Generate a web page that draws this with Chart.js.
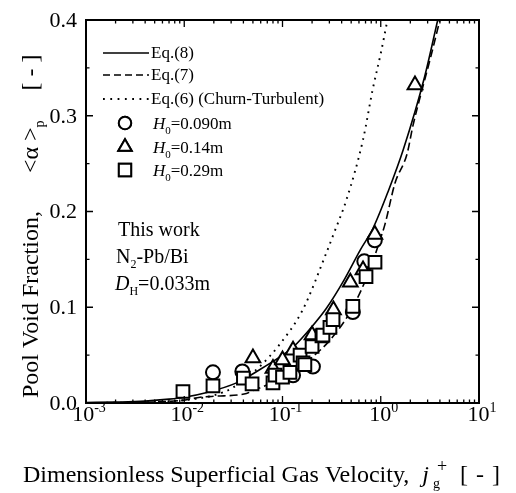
<!DOCTYPE html>
<html><head><meta charset="utf-8">
<script src="https://cdn.jsdelivr.net/npm/chart.js@4/dist/chart.umd.min.js"></script>
<style>html,body{margin:0;padding:0;background:#fff}canvas{display:block}</style>
</head><body>
<canvas id="c" width="516" height="493"></canvas>
<script>
// ---- data ----
const eq8J = [0.001, 0.002, 0.004, 0.007, 0.01, 0.017, 0.034, 0.059, 0.1, 0.13, 0.2, 0.28, 0.41, 0.62, 0.83, 1.2, 1.7, 2.8, 3.8];
const eq8A = [0.0005, 0.001, 0.002, 0.004, 0.006, 0.011, 0.021, 0.035, 0.050, 0.059, 0.080, 0.099, 0.126, 0.160, 0.182, 0.222, 0.265, 0.341, 0.400];
const eq7J = [0.001, 0.005, 0.01, 0.0145, 0.02, 0.043, 0.05, 0.07, 0.1, 0.2, 0.3, 0.5, 0.8, 0.98, 1.1, 1.4, 1.85, 2.13, 2.6, 3.2, 4.0];
const eq7A = [0, 0.001, 0.003, 0.006, 0.007, 0.010, 0.013, 0.019, 0.027, 0.048, 0.065, 0.097, 0.143, 0.17, 0.186, 0.23, 0.26, 0.29, 0.325, 0.36, 0.400];
const eq6J = [0.001, 0.005, 0.01, 0.02, 0.03, 0.045, 0.06, 0.09, 0.16, 0.28, 0.33, 0.45, 0.66, 0.83, 1.0, 1.17];
const eq6A = [0, 0.001, 0.003, 0.008, 0.015, 0.028, 0.039, 0.059, 0.097, 0.157, 0.176, 0.213, 0.275, 0.328, 0.365, 0.400];
const h090J = [0.0196, 0.039, 0.128, 0.204, 0.52, 0.68, 0.87];
const h090A = [0.032, 0.033, 0.029, 0.038, 0.095, 0.148, 0.170];
const h014J = [0.05, 0.08, 0.1, 0.128, 0.2, 0.33, 0.49, 0.66, 0.87, 2.23];
const h014A = [0.047, 0.036, 0.045, 0.055, 0.071, 0.097, 0.126, 0.139, 0.176, 0.332];
const h029J = [0.0097, 0.0196, 0.04, 0.049, 0.08, 0.084, 0.1, 0.119, 0.151, 0.162, 0.169, 0.2, 0.252, 0.258, 0.304, 0.327, 0.52, 0.708, 0.874];
const h029A = [0.012, 0.018, 0.026, 0.020, 0.021, 0.029, 0.027, 0.032, 0.050, 0.042, 0.040, 0.059, 0.070, 0.071, 0.079, 0.087, 0.101, 0.132, 0.147];
const xMajor = [0.001, 0.01, 0.1, 1, 10];
const xExp = ['-3', '-2', '-1', '0', '1'];
const yMajor = [0, 0.1, 0.2, 0.3, 0.4];
const yLabels = ['0.0', '0.1', '0.2', '0.3', '0.4'];
const yMinor = [0.05, 0.15, 0.25, 0.35];

const pts = (xs, ys) => xs.map((x, i) => ({x: x, y: ys[i]}));
const SERIF = '"Liberation Serif", "Times New Roman", serif';

// draws a run of text pieces; each piece may add a gap after itself or not advance
function rich(ctx, parts, x, y, align) {
  let w = 0;
  parts.forEach(p => {
    ctx.font = p.f; ctx.letterSpacing = p.ls || '0px';
    p.w = p.adv === 0 ? 0 : ctx.measureText(p.t).width + (p.gap || 0);
    w += p.w;
  });
  let cx = align === 'center' ? x - w / 2 : (align === 'right' ? x - w : x);
  ctx.textAlign = 'left';
  ctx.textBaseline = 'alphabetic';
  parts.forEach(p => {
    ctx.font = p.f; ctx.letterSpacing = p.ls || '0px';
    ctx.fillText(p.t, cx + (p.dx || 0), y + (p.dy || 0)); cx += p.w;
  });
  ctx.letterSpacing = '0px';
}

const deco = {
  id: 'deco',
  beforeDraw(chart) {
    const c = chart.ctx;
    c.save(); c.fillStyle = '#fff'; c.fillRect(0, 0, chart.width, chart.height); c.restore();
  },
  afterDraw(chart) {
    const c = chart.ctx, a = chart.chartArea, xs = chart.scales.x, ys = chart.scales.y;
    c.save();
    c.strokeStyle = '#000'; c.fillStyle = '#000'; c.lineWidth = 2;
    c.strokeRect(a.left, a.top, a.right - a.left, a.bottom - a.top);
    c.lineWidth = 1.3;
    c.beginPath();
    for (let d = 0; d < xMajor.length; d++) {
      const base = xMajor[d];
      for (let m = 1; m <= 9; m++) {
        const v = base * m;
        if (v > 10 + 1e-9) break;
        const px = xs.getPixelForValue(v);
        const len = m === 1 ? 7 : 3.5;
        c.moveTo(px, a.bottom); c.lineTo(px, a.bottom - len);
        c.moveTo(px, a.top); c.lineTo(px, a.top + len);
      }
    }
    yMajor.forEach(v => { const py = ys.getPixelForValue(v); c.moveTo(a.left, py); c.lineTo(a.left + 7, py); c.moveTo(a.right, py); c.lineTo(a.right - 7, py); });
    yMinor.forEach(v => { const py = ys.getPixelForValue(v); c.moveTo(a.left, py); c.lineTo(a.left + 3.5, py); c.moveTo(a.right, py); c.lineTo(a.right - 3.5, py); });
    c.stroke();

    // tick labels
    c.font = '22px ' + SERIF;
    c.textAlign = 'right'; c.textBaseline = 'middle';
    yMajor.forEach((v, i) => c.fillText(yLabels[i], a.left - 9, ys.getPixelForValue(v) + 1));
    xMajor.forEach((v, i) => {
      const px = xs.getPixelForValue(v);
      rich(c, [{t: '10', f: '22px ' + SERIF}, {t: xExp[i], f: '14px ' + SERIF, dy: -9}], px + 3, a.bottom + 18, 'center');
    });

    // x axis title
    rich(c, [
      {t: 'Dimensionless Superficial Gas Velocity,', f: '24px ' + SERIF, gap: 13},
      {t: 'j', f: 'italic 24px ' + SERIF, gap: 4},
      {t: '+', f: '18px ' + SERIF, dy: -10, dx: 4, adv: 0},
      {t: 'g', f: '14px ' + SERIF, dy: 6, gap: 20},
      {t: '[-]', f: '24px ' + SERIF, ls: '8px'}
    ], 23, 482, 'left');
    // y axis title (rotated)
    c.save();
    c.translate(38, 0);
    c.rotate(-Math.PI / 2);
    rich(c, [
      {t: 'Pool Void Fraction,', f: '24px ' + SERIF, gap: 38},
      {t: '<\u03b1 >', f: '24px ' + SERIF},
      {t: 'p', f: '14px ' + SERIF, dy: 6, gap: 30},
      {t: '[-]', f: '24px ' + SERIF, ls: '6px'}
    ], -398, 0, 'left');
    c.restore();

    // legend
    const lx0 = 103, lx1 = 149, tx = 151;
    const rows = [53, 75, 99];
    const dashes = [[], [7, 4], [1.8, 5.5]];
    const labs = ['Eq.(8)', 'Eq.(7)', 'Eq.(6) (Churn-Turbulent)'];
    rows.forEach((y, i) => {
      c.beginPath(); c.setLineDash(dashes[i]); c.lineWidth = i === 2 ? 1.8 : 1.5;
      c.moveTo(lx0, y); c.lineTo(lx1, y); c.stroke();
      c.setLineDash([]);
      c.font = '17px ' + SERIF; c.textAlign = 'left'; c.textBaseline = 'middle';
      c.fillText(labs[i], tx, y + 1);
    });
    const mk = [{s: 'circle', r: 6.2, y: 123, v: '0.090m'}, {s: 'triangle', r: 7.7, y: 147, v: '0.14m'}, {s: 'rect', r: 8.7, y: 170, v: '0.29m'}];
    mk.forEach(m => {
      c.lineWidth = 2; c.fillStyle = '#fff';
      Chart.helpers.drawPoint(c, {pointStyle: m.s, radius: m.r, rotation: 0, borderWidth: 2}, 125, m.y);
      c.fill(); c.stroke();
      c.fillStyle = '#000';
      rich(c, [{t: 'H', f: 'italic 17px ' + SERIF}, {t: '0', f: '11px ' + SERIF, dy: 5}, {t: '=' + m.v, f: '17px ' + SERIF}], 153, m.y + 6, 'left');
    });
    c.fillStyle = '#000';
    rich(c, [{t: 'This work', f: '20px ' + SERIF}], 118, 236, 'left');
    rich(c, [{t: 'N', f: '20px ' + SERIF}, {t: '2', f: '12px ' + SERIF, dy: 5}, {t: '-Pb/Bi', f: '20px ' + SERIF}], 116, 263, 'left');
    rich(c, [{t: 'D', f: 'italic 20px ' + SERIF}, {t: 'H', f: '12px ' + SERIF, dy: 5}, {t: '=0.033m', f: '20px ' + SERIF}], 115, 290, 'left');
    c.restore();
  }
};

const lineDs = (label, xs, ys, dash, w) => ({
  type: 'line', label, data: pts(xs, ys), borderColor: '#000', borderWidth: w, borderDash: dash,
  pointRadius: 0, fill: false, cubicInterpolationMode: 'monotone', order: 3
});
const scatDs = (label, xs, ys, style, r, order) => ({
  type: 'scatter', label, data: pts(xs, ys), pointStyle: style, pointRadius: r, pointHoverRadius: r,
  pointBorderColor: '#000', pointBackgroundColor: '#fff', pointBorderWidth: 2, order
});

new Chart(document.getElementById('c'), {
  type: 'scatter',
  data: {
    datasets: [
      lineDs('Eq.(8)', eq8J, eq8A, [], 1.6),
      lineDs('Eq.(7)', eq7J, eq7A, [8, 4], 1.6),
      lineDs('Eq.(6) (Churn-Turbulent)', eq6J, eq6A, [1.8, 5], 1.9),
      scatDs('H0=0.090m', h090J, h090A, 'circle', 7, 2),
      scatDs('H0=0.14m', h014J, h014A, 'triangle', 8.5, 1),
      scatDs('H0=0.29m', h029J, h029A, 'rect', 9, 0)
    ]
  },
  options: {
    responsive: false, animation: false, devicePixelRatio: 1,
    layout: {padding: {left: 86, right: 37, top: 20, bottom: 90}},
    plugins: {legend: {display: false}, tooltip: {enabled: false}},
    scales: {
      x: {type: 'logarithmic', min: 0.001, max: 10, display: false},
      y: {type: 'linear', min: 0, max: 0.4, display: false}
    }
  },
  plugins: [deco]
});
</script>
</body></html>
